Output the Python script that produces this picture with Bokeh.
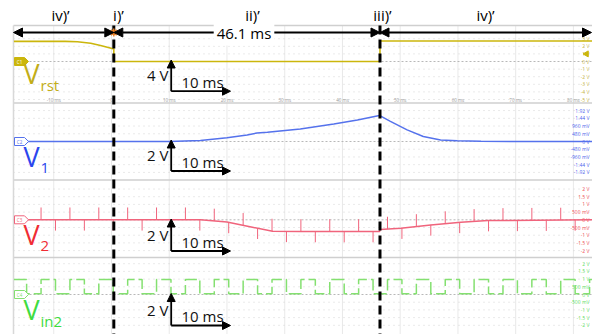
import numpy as np
from bokeh.plotting import figure
from bokeh.models import Range1d, Arrow, NormalHead, Label
from bokeh.core.properties import value
from bokeh.embed import file_html
from bokeh.resources import INLINE

# ---------------- data ----------------
phase_names = ["iv)’", "i)’", "ii)’", "iii)’", "iv)’"]
t_phase_i_ms = 0.4
t_phase_iii_ms = 46.5
duration_label = "46.1 ms"

time_ticks_ms = [-10, 0, 10, 20, 30, 40, 50, 60, 70, 80]
time_tick_labels = ["-10 ms", "0", "10 ms", "20 ms", "30 ms", "40 ms",
                    "50 ms", "60 ms", "70 ms", "80 ms"]

vrst_t_ms = [-16.9, -8.0, -5.9, -3.6, -1.9, 0.1, 0.4, 0.4, 46.5, 46.5, 83.5]
vrst_v = [2.65, 2.65, 2.6, 2.4, 2.1, 1.7, 1.65, 0.0, 0.0, 2.7, 2.7]

v1_t_ms = [-16.9, 10.0, 15.4, 20.0, 23.5, 25.2, 27.0, 32.7, 38.5, 42.6, 46.4,
           48.3, 51.2, 54.0, 57.0, 59.9, 64.0, 83.5]
v1_v = [0.0, 0.0, 0.06, 0.23, 0.41, 0.53, 0.57, 0.78, 1.09, 1.34, 1.62,
        1.25, 0.72, 0.31, 0.10, 0.04, 0.01, 0.0]

v2_t_ms = [-16.9, 15.4, 20.0, 24.4, 27.9, 32.7, 46.45, 46.5, 50.1, 55.3, 60.5, 65.2, 83.5]
v2_v = [0.0, 0.0, -0.15, -0.48, -0.74, -0.76, -0.76, -0.63, -0.55, -0.33, -0.16, -0.05, 0.0]
v2_spike_up_v = 0.8
v2_spike_down_v = -0.7

vin2_rise_ms = [-12.2, -7.2, -2.2, 2.8, 7.8, 12.8, 17.8, 22.8, 27.8, 32.8, 37.8,
                42.8, 47.8, 52.8, 57.8, 62.8, 67.8, 72.8, 77.8, 82.8]
vin2_fall_ms = [-14.7, -9.7, -4.7, 0.3, 5.3, 10.3, 15.3, 20.3, 25.3, 30.3, 35.3,
                40.3, 45.3, 50.3, 55.3, 60.3, 65.3, 70.3, 75.3, 80.3]
vin2_high_v = 0.97
vin2_low_v = 0.05

c1_ticks_v = [3, 2, 1, 0, -1, -2, -3, -4, -5]
c1_tick_labels = ["3 V", "2 V", "1 V", "0 V", "-1 V", "-2 V", "-3 V", "-4 V", "-5 V"]
c2_ticks_v = [1.92, 1.44, 0.96, 0.48, 0, -0.48, -0.96, -1.44, -1.92]
c2_tick_labels = ["1.92 V", "1.44 V", "960 mV", "480 mV", "0 V", "-480 mV",
                  "-960 mV", "-1.44 V", "-1.92 V"]
c3_ticks_v = [2, 1.5, 1, 0.5, 0, -0.5, -1, -1.5, -2]
c3_tick_labels = ["2 V", "1.5 V", "1 V", "500 mV", "0 V", "-500 mV", "-1 V", "-1.5 V", "-2 V"]
c4_ticks_v = [2, 1.5, 1, 0.5, 0, -0.5, -1, -1.5, -2]
c4_tick_labels = ["2 V", "1.5 V", "1 V", "500 mV", "0 V", "-500 mV", "-1 V", "-1.5 V", "-2 V"]

channel_tags = ["C1", "C2", "C3", "C4"]
channel_subs = ["rst", "1", "2", "in2"]
scale_volt_labels = ["4 V", "2 V", "2 V", "2 V"]
scale_time_label = "10 ms"

# ---------------- layout ----------------
W, H = 592, 334
X0 = 111.0          # pixel of t = 0
PXMS = 5.774        # pixels per ms
LEFT = 13.0
panel_edges = [25.0, 102.5, 179.5, 257.0, 334.0]
FONT = "Open Sans"

# name, zero pixel, pixels per volt, trace colour, label colour
CH = [
    ("c1", 61.0, 7.6, "#cbb60c", "#c2ad18"),
    ("c2", 141.0, 16.1, "#5572ec", "#2b46ee"),
    ("c3", 219.3, 15.4, "#f0647c", "#f02c34"),
    ("c4", 294.0, 15.4, "#84e070", "#3fdc3f"),
]
ticks = [(c1_ticks_v, c1_tick_labels), (c2_ticks_v, c2_tick_labels),
         (c3_ticks_v, c3_tick_labels), (c4_ticks_v, c4_tick_labels)]

p = figure(width=W, height=H, output_backend="svg", toolbar_location=None,
           x_range=Range1d(-X0 / PXMS, (W - X0) / PXMS),
           y_range=Range1d(H, 0),
           x_axis_location=None, y_axis_location=None, min_border=0)
p.outline_line_color = None
p.background_fill_color = "white"
p.border_fill_color = "white"
p.grid.visible = False
p.extra_x_ranges = {"px": Range1d(0, W)}
p.extra_y_ranges = {n: Range1d(-(H - z) / s, z / s) for n, z, s, _, _ in CH}

# --- grid ---
p.segment(x0=time_ticks_ms, x1=time_ticks_ms, y0=[panel_edges[0]] * len(time_ticks_ms),
          y1=[H] * len(time_ticks_ms), line_color="#e9e9e9", line_width=1)
for (n, z, s, col, lcol), (tv, tl) in zip(CH, ticks):
    nz = [v for v in tv if v != 0]
    p.segment(x0=[LEFT] * len(nz), x1=[W] * len(nz), y0=nz, y1=nz, x_range_name="px",
              y_range_name=n, line_color="#d4d4d4", line_width=1, line_dash="1 4")
    p.segment(x0=[LEFT], x1=[W], y0=[0], y1=[0], x_range_name="px", y_range_name=n,
              line_color="#b8b8b8", line_width=1, line_dash="2 2")
    p.text(x=[589] * len(tv), y=tv, text=tl, x_range_name="px", y_range_name=n,
           text_font=value(FONT), text_font_size=value("5px"), text_align="right",
           text_baseline="middle", text_color=lcol, text_alpha=0.85)

# panel borders
p.segment(x0=[LEFT] * 4, x1=[W] * 4, y0=panel_edges[:4], y1=panel_edges[:4],
          x_range_name="px", line_color="#cfcfcf", line_width=1.5)
p.segment(x0=[LEFT], x1=[LEFT], y0=[panel_edges[0]], y1=[H], x_range_name="px",
          line_color="#d8d8d8", line_width=1.5)

# time labels of the top channel
p.text(x=time_ticks_ms, y=[99] * len(time_ticks_ms), text=time_tick_labels,
       text_font=value(FONT), text_font_size=value("4.5px"), text_align="center",
       text_baseline="middle", text_color="#9a9a9a")

# --- traces ---
p.line(vrst_t_ms, vrst_v, y_range_name="c1", line_color=CH[0][3], line_width=1.6)
p.line(v1_t_ms, v1_v, y_range_name="c2", line_color=CH[1][3], line_width=1.5)
p.line(v2_t_ms, v2_v, y_range_name="c3", line_color=CH[2][3], line_width=1.5)

up = [t for t in vin2_rise_ms if -13 < t < 81]
dn = [t for t in vin2_fall_ms if -13 < t < 81]
bu = np.interp(up, v2_t_ms, v2_v)
bd = np.interp(dn, v2_t_ms, v2_v)
p.segment(x0=up, x1=up, y0=bu, y1=bu + v2_spike_up_v, y_range_name="c3",
          line_color=CH[2][3], line_width=1)
p.segment(x0=dn, x1=dn, y0=bd, y1=bd + v2_spike_down_v, y_range_name="c3",
          line_color=CH[2][3], line_width=1)

edges = sorted([(t, vin2_high_v) for t in vin2_rise_ms] + [(t, vin2_low_v) for t in vin2_fall_ms])
vt, vv = [-16.9], [vin2_high_v]
for t, lv in edges:
    vt += [t, t]
    vv += [vv[-1], lv]
vt.append(83.5)
vv.append(vv[-1])
p.line(vt, vv, y_range_name="c4", line_color=CH[3][3], line_width=1.5, line_dash="13 4")

# channel tags
for i, (n, z, s, col, lcol) in enumerate(CH):
    fill = col if i == 0 else "white"
    p.patch(x=[14, 24, 28, 24, 14], y=[z - 4, z - 4, z, z + 4, z + 4], x_range_name="px",
            fill_color=fill, line_color=col, line_width=1)
    p.text(x=[19], y=[z], text=[channel_tags[i]], x_range_name="px",
           text_font=value(FONT), text_font_size=value("4.5px"), text_align="center",
           text_baseline="middle", text_color="white" if i == 0 else col)

# trigger marker at the right edge
p.scatter(x=[586], y=[1.0], x_range_name="px", y_range_name="c1", marker="triangle",
          angle=np.pi / 2, size=6, fill_color=CH[0][3], line_color=CH[0][3])

# --- phase boundaries ---
p.segment(x0=[t_phase_i_ms, t_phase_iii_ms], x1=[t_phase_i_ms, t_phase_iii_ms],
          y0=[panel_edges[0]] * 2, y1=[H] * 2, line_color="black", line_width=3,
          line_dash="9 5")

# --- phase arrows along the top ---
AY = 32.0
def head():
    return NormalHead(size=9, fill_color="black", line_color="black", line_width=1)

x_start = (LEFT - X0) / PXMS
x_end = (W - 1 - X0) / PXMS
for a, b in [(x_start, t_phase_i_ms), (t_phase_i_ms, t_phase_iii_ms), (t_phase_iii_ms, x_end)]:
    p.add_layout(Arrow(x_start=a, y_start=AY, x_end=b, y_end=AY, start=head(), end=head(),
                       line_color="black", line_width=2.2))
p.scatter(x=[t_phase_i_ms], y=[AY], marker="asterisk", size=8, line_color="#f08020",
          line_width=1.5)

p.add_layout(Label(x=(t_phase_i_ms + t_phase_iii_ms) / 2 - 0.5, y=AY, text=duration_label,
                   text_font=FONT, text_font_size="15px", text_align="center",
                   text_baseline="middle", text_color="black",
                   background_fill_color="white", padding=3))

phase_x_px = [60, 118, 252, 382, 485]
for name, xp in zip(phase_names, phase_x_px):
    p.add_layout(Label(x=xp, y=14, x_range_name="px", text=name, text_font=FONT,
                       text_font_size="15px", text_align="center",
                       text_baseline="middle", text_color="black"))

# --- scale bars ---
bar_bottom = [90.7, 170.5, 250.5, 325.0]
bar_top = [59.5, 139.5, 218.5, 293.0]
for k in range(4):
    yb, yt = bar_bottom[k], bar_top[k]
    p.add_layout(Arrow(x_start=170.7, y_start=yb, x_end=170.7, y_end=yt, x_range_name="px",
                       end=NormalHead(size=8, fill_color="black", line_color="black"),
                       line_color="black", line_width=1.8))
    p.add_layout(Arrow(x_start=170.7, y_start=yb, x_end=230.0, y_end=yb, x_range_name="px",
                       end=NormalHead(size=8, fill_color="black", line_color="black"),
                       line_color="black", line_width=1.8))
    p.add_layout(Label(x=168, y=yb - 16, x_range_name="px", text=scale_volt_labels[k],
                       text_font=FONT, text_font_size="15px", text_align="right",
                       text_baseline="middle", text_color="#111111"))
    p.add_layout(Label(x=181, y=yb - 9.5, x_range_name="px", text=scale_time_label,
                       text_font=FONT, text_font_size="15px", text_align="left",
                       text_baseline="middle", text_color="#111111"))

# --- channel names ---
name_mid = [73.0, 156.0, 234.0, 309.0]
for k in range(4):
    lcol = CH[k][4]
    p.add_layout(Label(x=23, y=name_mid[k], x_range_name="px", text="V",
                       text_font=FONT, text_font_size="27px", text_align="left",
                       text_baseline="middle", text_color=lcol))
    p.add_layout(Label(x=40, y=name_mid[k] + 11, x_range_name="px", text=channel_subs[k],
                       text_font=FONT, text_font_size="15px", text_align="left",
                       text_baseline="middle", text_color=lcol))

open("out.html", "w").write(file_html(p, INLINE))
